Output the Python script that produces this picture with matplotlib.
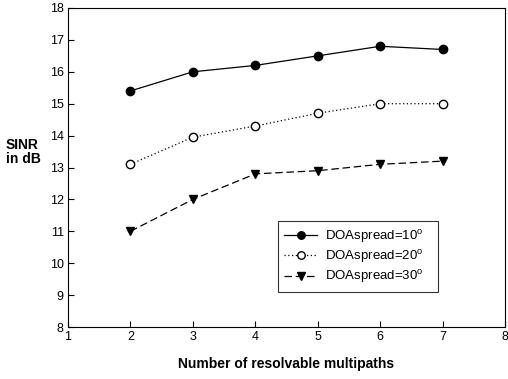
import matplotlib
matplotlib.use('Agg')
import matplotlib.pyplot as plt

plt.rcParams['font.family'] = ['Liberation Sans', 'DejaVu Sans']
plt.rcParams['mathtext.fontset'] = 'custom'
plt.rcParams['mathtext.rm'] = 'Liberation Sans'

# Daten
paths = [2, 3, 4, 5, 6, 7]
sinr_10 = [15.4, 16.0, 16.2, 16.5, 16.8, 16.7]
sinr_20 = [13.1, 13.95, 14.3, 14.7, 15.0, 15.0]
sinr_30 = [11.0, 12.0, 12.8, 12.9, 13.1, 13.2]
labels = ['DOAspread=10$^\\mathrm{o}$', 'DOAspread=20$^\\mathrm{o}$', 'DOAspread=30$^\\mathrm{o}$']

fig = plt.figure(figsize=(5.08, 3.79), dpi=100)
ax = fig.add_axes([68 / 508, 52 / 379, 437 / 508, 319 / 379])

ax.plot(paths, sinr_10, color='black', lw=0.9, marker='o', ms=6,
        mfc='black', mec='black', label=labels[0])
ax.plot(paths, sinr_20, color='black', lw=0.9, ls=(0, (1, 2)), marker='o', ms=6,
        mfc='white', mec='black', label=labels[1])
ax.plot(paths, sinr_30, color='black', lw=0.9, ls=(0, (6, 3)), marker='v', ms=6,
        mfc='black', mec='black', label=labels[2])

ax.set_xlim(1, 8)
ax.set_ylim(8, 18)
ax.set_xticks(range(1, 9))
ax.set_yticks(range(8, 19))
ax.tick_params(direction='in', length=4, width=0.8, labelsize=9, pad=3)
for s in ax.spines.values():
    s.set_linewidth(0.8)

ax.set_xlabel('Number of resolvable multipaths', fontsize=10, fontweight='bold', labelpad=10)
fig.text(6 / 508, 1 - 152 / 379, 'SINR\nin dB', fontsize=10, fontweight='bold',
         ha='left', va='center', linespacing=1.0)

leg = ax.legend(loc='lower left', bbox_to_anchor=(0.48, 0.11, 0.367, 0.22),
                mode='expand', fontsize=9.5, frameon=True, fancybox=False,
                edgecolor='black', handlelength=2.5, borderaxespad=0,
                labelspacing=0.25, borderpad=0.5, handletextpad=0.6,
                markerscale=0.9)
leg.get_frame().set_linewidth(0.8)

plt.savefig('out.png', dpi=100)
